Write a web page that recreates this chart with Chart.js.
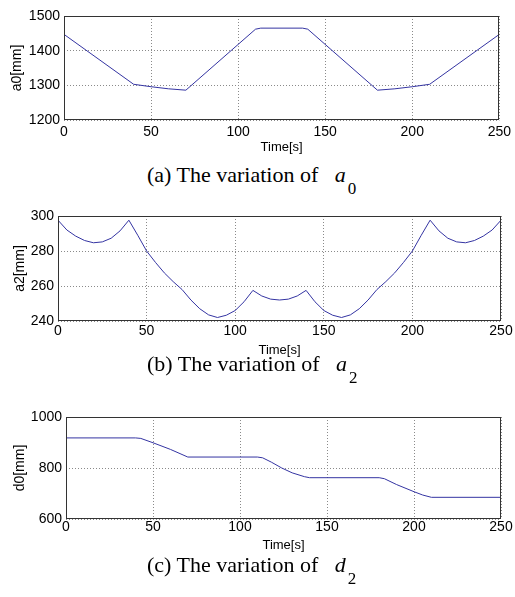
<!DOCTYPE html>
<html>
<head>
<meta charset="utf-8">
<script src="https://cdn.jsdelivr.net/npm/chart.js@4"></script>
<style>
  body { margin: 0; background: #fff; width: 515px; height: 597px; position: relative; overflow: hidden; }
  .box { position: absolute; left: 0; width: 515px; }
  .cap { position: absolute; left: 147px; font-family: "Liberation Serif", "Times New Roman", serif; font-size: 22px; line-height: 22px; white-space: nowrap; color: #000; }
  .cap i { margin-left: 11px; }
  .cap .s { position: relative; top: 12px; margin-left: 2px; font-size: 17px; font-style: normal; }
</style>
</head>
<body>
<div class="box" style="top:0px;height:160px"><canvas id="c1" width="515" height="160"></canvas></div>
<div class="cap" style="top:164px">(a) The variation of <i>a</i><span class="s">0</span></div>
<div class="box" style="top:200px;height:161px"><canvas id="c2" width="515" height="161"></canvas></div>
<div class="cap" style="top:353px">(b) The variation of <i>a</i><span class="s">2</span></div>
<div class="box" style="top:401px;height:158px"><canvas id="c3" width="515" height="158"></canvas></div>
<div class="cap" style="top:554px">(c) The variation of <i>d</i><span class="s">2</span></div>
<script>
// a0 over time
const a0Time = [0, 40, 50, 60, 70, 110, 113, 137, 140, 180, 190, 200, 210, 250];
const a0Vals = [1447, 1303, 1296, 1290, 1286, 1462, 1465, 1465, 1462, 1286, 1290, 1296, 1303, 1447];

// a2 sampled every 5 s
const a2Time = [0, 5, 10, 15, 20, 25, 30, 35, 40, 45, 50, 55, 60, 65, 70, 75, 80, 85, 90, 95,
  100, 105, 110, 115, 120, 125, 130, 135, 140, 145, 150, 155, 160, 165, 170, 175, 180, 185, 190, 195,
  200, 205, 210, 215, 220, 225, 230, 235, 240, 245, 250];
const a2Vals = [297.6, 292, 288.5, 286, 284.7, 285.2, 287.3, 291.5, 297.6, 289,
  280, 273.5, 267.5, 262.5, 258, 252, 247, 243.5, 242, 243.3,
  246, 251, 257.5, 254.3, 252.5, 252, 252.5, 254.3, 257.5, 251,
  246, 243.3, 242, 243.5, 247, 252, 258, 262.5, 267.5, 273.5,
  280, 289, 297.6, 291.5, 287.3, 285.2, 284.7, 286, 288.5, 292, 297.6];

// d0 over time
const d0Time = [0, 40, 43, 50, 60, 70, 110, 113, 118, 124, 130, 137, 140, 180, 183, 190, 200, 205, 210, 250];
const d0Vals = [918, 918, 916, 899, 873, 843, 843, 840, 823, 800, 781, 766, 762, 762, 758, 735, 707, 694, 685, 685];

const xTicks = [0, 50, 100, 150, 200, 250];

const framePlugin = {
  id: 'frame',
  afterDatasetsDraw(chart) {
    const { ctx, chartArea: a } = chart;
    ctx.save();
    ctx.strokeStyle = '#333';
    ctx.lineWidth = 1;
    ctx.strokeRect(Math.round(a.left) + 0.5, Math.round(a.top) + 0.5,
      Math.round(a.right - a.left) - 1, Math.round(a.bottom - a.top) - 1);
    ctx.restore();
  }
};

function makeChart(id, times, vals, yMin, yMax, yStep, yTitle, o) {
  new Chart(document.getElementById(id), {
    type: 'line',
    data: {
      datasets: [{
        data: times.map((t, i) => ({ x: t, y: vals[i] })),
        borderColor: '#3434a2',
        borderWidth: 1,
        pointRadius: 0,
        tension: 0,
        fill: false
      }]
    },
    options: {
      responsive: false,
      animation: false,
      events: [],
      layout: { padding: { top: 16, right: o.padRight, left: 0, bottom: 0 } },
      plugins: { legend: { display: false }, tooltip: { enabled: false } },
      scales: {
        x: {
          type: 'linear', min: 0, max: 250,
          afterBuildTicks: (s) => { s.ticks = xTicks.map(v => ({ value: v })); },
          afterFit: (s) => { s.height = 40; },
          grid: { color: '#8a8a8a', drawTicks: false },
          border: { display: false, dash: [1, 2] },
          ticks: { padding: o.xPad, color: '#000', font: { family: 'Liberation Sans', size: 14 }, maxRotation: 0,
            callback: (v) => String(v) },
          title: { display: true, text: 'Time[s]', color: '#000', font: { family: 'Liberation Sans', size: 13 },
            padding: { top: 0, bottom: o.xTitlePad } }
        },
        y: {
          min: yMin, max: yMax,
          afterFit: (s) => { s.width = o.yWidth; },
          grid: { color: '#8a8a8a', drawTicks: false },
          border: { display: false, dash: [1, 2] },
          ticks: { stepSize: yStep, padding: 4, color: '#000', font: { family: 'Liberation Sans', size: 14 },
            callback: (v) => String(v) },
          title: { display: true, text: yTitle, color: '#000', font: { family: 'Liberation Sans', size: 14 },
            padding: { top: o.yTitlePad, bottom: 0 } }
        }
      }
    },
    plugins: [framePlugin]
  });
}

makeChart('c1', a0Time, a0Vals, 1200, 1500, 100, 'a0[mm]',
  { padRight: 12, yWidth: 64, xPad: 4, xTitlePad: 4.7, yTitlePad: 9 });
makeChart('c2', a2Time, a2Vals, 240, 300, 20, 'a2[mm]',
  { padRight: 14, yWidth: 58, xPad: 2, xTitlePad: 3.2, yTitlePad: 11.5 });
makeChart('c3', d0Time, d0Vals, 600, 1000, 200, 'd0[mm]',
  { padRight: 14, yWidth: 66, xPad: 0, xTitlePad: 5.7, yTitlePad: 11.5 });
</script>
</body>
</html>
